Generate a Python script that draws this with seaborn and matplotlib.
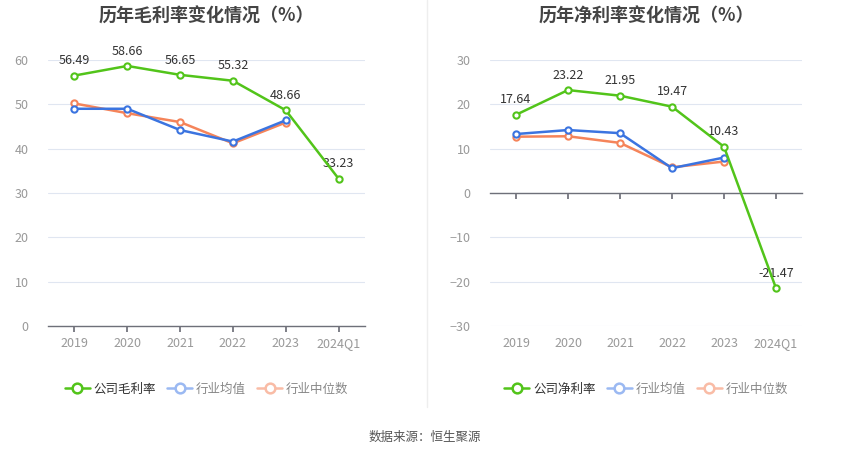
import matplotlib
matplotlib.use("Agg")
import matplotlib.pyplot as plt
from matplotlib.lines import Line2D
import seaborn as sns
import pandas as pd

years = ["2019", "2020", "2021", "2022", "2023", "2024Q1"]

gross_company = [56.49, 58.66, 56.65, 55.32, 48.66, 33.23]
gross_avg = [49.0, 49.0, 44.2, 41.6, 46.4]
gross_median = [50.2, 48.0, 46.0, 41.2, 45.9]

net_company = [17.64, 23.22, 21.95, 19.47, 10.43, -21.47]
net_avg = [13.3, 14.2, 13.5, 5.6, 8.0]
net_median = [12.7, 12.8, 11.3, 5.8, 7.1]

legend_left = ["公司毛利率", "行业均值", "行业中位数"]
legend_right = ["公司净利率", "行业均值", "行业中位数"]

GREEN = "#52c41a"
BLUE = "#3b74e0"
ORANGE = "#f5845a"
GRID = "#e0e6f1"
AXIS = "#6e7079"

sns.set_theme(style="white")
plt.rcParams["font.family"] = ["Noto Sans CJK SC", "DejaVu Sans"]

fig = plt.figure(figsize=(8.5, 4.59), dpi=100)
ax1 = fig.add_axes([48 / 850, 133 / 459, 317 / 850, 266 / 459])
ax2 = fig.add_axes([490 / 850, 133 / 459, 312 / 850, 266 / 459])


def draw(ax, company, avg, median, ylim, labels, title, zero_mid):
    x = list(range(len(years)))
    df_c = pd.DataFrame({"x": x, "v": company})
    df_a = pd.DataFrame({"x": x[:len(avg)], "v": avg})
    df_m = pd.DataFrame({"x": x[:len(median)], "v": median})
    style = dict(marker="o", markersize=4.5, markerfacecolor="white",
                 markeredgewidth=1.5, linewidth=1.8)
    sns.lineplot(data=df_m, x="x", y="v", ax=ax, color=ORANGE,
                 markeredgecolor=ORANGE, zorder=3, **style)
    sns.lineplot(data=df_a, x="x", y="v", ax=ax, color=BLUE,
                 markeredgecolor=BLUE, zorder=4, **style)
    sns.lineplot(data=df_c, x="x", y="v", ax=ax, color=GREEN,
                 markeredgecolor=GREEN, zorder=5, **style)
    for xi, v in zip(x, company):
        ax.annotate(f"{v:.2f}", (xi, v), xytext=(0, 6), textcoords="offset points",
                    ha="center", va="bottom", fontsize=9, color="#333333")
    ax.set_xlim(-0.5, len(years) - 0.5)
    ax.set_ylim(*ylim)
    ax.set_yticks(range(ylim[0], ylim[1] + 1, 10))
    ax.yaxis.grid(True, color=GRID, linewidth=0.8)
    ax.set_axisbelow(True)
    for s in ["top", "right", "left"]:
        ax.spines[s].set_visible(False)
    ax.spines["bottom"].set_color(AXIS)
    ax.spines["bottom"].set_linewidth(1)
    if zero_mid:
        ax.spines["bottom"].set_position(("data", 0))
    ax.set_xticks(x)
    ax.tick_params(axis="x", bottom=True, length=4, color=AXIS, labelbottom=False)
    ax.tick_params(axis="y", left=False, labelsize=9, labelcolor="#999999", pad=8)
    sec = ax.secondary_xaxis("bottom")
    sec.set_xticks(x)
    sec.set_xticklabels(years)
    sec.spines["bottom"].set_visible(False)
    sec.tick_params(length=0, labelsize=9, labelcolor="#999999", pad=8)
    ax.set_xlabel("")
    ax.set_ylabel("")

    handles = [
        Line2D([], [], color=GREEN, marker="o", markersize=7, markerfacecolor="white",
               markeredgewidth=1.8, linewidth=1.8),
        Line2D([], [], color="#9bb9f2", marker="o", markersize=7, markerfacecolor="white",
               markeredgewidth=1.8, linewidth=1.8),
        Line2D([], [], color="#f9bca6", marker="o", markersize=7, markerfacecolor="white",
               markeredgewidth=1.8, linewidth=1.8),
    ]
    leg = ax.legend(handles, labels, loc="upper center", bbox_to_anchor=(0.5, -0.17),
                    ncol=3, frameon=False, fontsize=9, handlelength=2.0,
                    handletextpad=0.3, columnspacing=0.9)
    for t, c in zip(leg.get_texts(), ["#333333", "#888888", "#888888"]):
        t.set_color(c)
    ax.set_title(title, fontsize=13, fontweight="bold", color="#444444", pad=0, y=1.145)


draw(ax1, gross_company, gross_avg, gross_median, (0, 60), legend_left,
     "历年毛利率变化情况（%）", False)
draw(ax2, net_company, net_avg, net_median, (-30, 30), legend_right,
     "历年净利率变化情况（%）", True)

fig.add_artist(Line2D([427 / 850, 427 / 850], [1, 52 / 459], color="#eeeeee", linewidth=1))
fig.text(0.5, 22 / 459, "数据来源：恒生聚源", ha="center", va="center",
         fontsize=9, color="#555555")

fig.savefig("out.png", dpi=100)
